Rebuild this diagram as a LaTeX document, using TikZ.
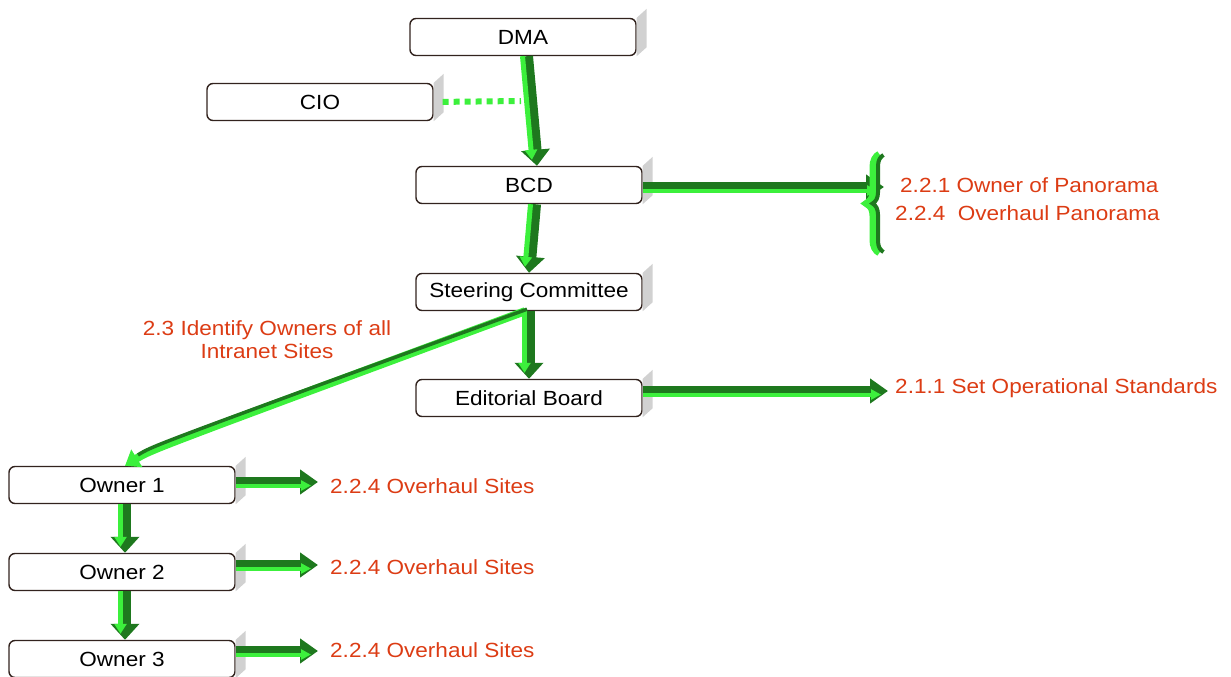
\documentclass[tikz,border=0pt]{standalone}
\usepackage{fontspec}
\setmainfont{Liberation Sans}[FakeStretch=1.1]
\usetikzlibrary{arrows.meta,decorations.pathreplacing}
\definecolor{dkgreen}{RGB}{30,120,30}
\definecolor{ltgreen}{RGB}{60,240,60}
\definecolor{taskred}{RGB}{220,60,20}
\definecolor{boxline}{RGB}{50,35,30}
\tikzset{
  box/.style={draw=boxline, line width=1.4pt, rounded corners=6pt, fill=white,
    minimum width=226pt, minimum height=37pt, inner sep=0pt,
    font=\fontsize{20.5}{23}\selectfont},
  task/.style={text=taskred, font=\fontsize{20.5}{23}\selectfont, inner sep=0pt},
  flow/.style={draw=dkgreen, line width=12pt, -{Triangle[length=16pt,width=28pt]}},
  flowhi/.style={draw=ltgreen, line width=5pt, -{Triangle[length=10pt,width=12pt]}, shorten >=6pt},
  sideflow/.style={draw=dkgreen, line width=11pt, -{Triangle[length=18pt,width=24pt]}},
  sideflowhi/.style={draw=ltgreen, line width=4pt, -{Triangle[length=10pt,width=10pt]}, shorten >=7pt},
  bevel/.style={fill=black!18, draw=none},
  dots/.style={draw=ltgreen, line width=6pt, dash pattern=on 6pt off 5pt, shorten <=9pt}
}
% grey edge behind the top right corner of a box
\newcommand{\bevelof}[1]{\fill[bevel] (#1.north east) -- ++(10,-9)
  -- ([shift={(10,-9)}]#1.south east) -- (#1.south east) -- cycle;}

\begin{document}
\begin{tikzpicture}[x=1pt,y=-1pt]
\useasboundingbox (0,0) rectangle (1231,677);

% boxes
\node[box] (dma) at (523,37) {DMA};
\node[box] (cio) at (320,102) {CIO};
\node[box] (bcd) at (529,185) {BCD};
\node[box] (st)  at (529,292) {Steering Committee};
\node[box] (ed)  at (529,398) {Editorial Board};
\node[box] (o1)  at (122,485) {Owner 1};
\node[box] (o2)  at (122,572) {Owner 2};
\node[box] (o3)  at (122,659) {Owner 3};
\foreach \b in {dma,cio,bcd,st,ed,o1,o2,o3} {\bevelof{\b}}

% tasks
\node[task, anchor=west] (t221) at (900,185) {2.2.1 Owner of Panorama};
\node[task, anchor=west] (t224) at (895,213) {2.2.4\ \ Overhaul Panorama};
\node[task, anchor=west] (t211) at (895,388) {2.1.1 Set Operational Standards};
\node[task, align=center] (t23) at (267,340) {2.3 Identify Owners of all\\Intranet Sites};
\node[task, anchor=west] (s1) at (330,486) {2.2.4 Overhaul Sites};
\node[task, anchor=west] (s2) at (330,567) {2.2.4 Overhaul Sites};
\node[task, anchor=west] (s3) at (330,650) {2.2.4 Overhaul Sites};

% CIO link
\coordinate (cioend) at (521,101);
\draw[dots] (cio.east) -- (cioend);

% vertical flows
\draw[flow] ([xshift=4pt]dma.south) -- ([xshift=8pt]bcd.north);
\draw[flowhi] ([xshift=-0.5pt]dma.south) -- ([xshift=3.5pt]bcd.north);
\draw[flow] ([xshift=6pt]bcd.south) -- (st.north);
\draw[flowhi] ([xshift=1.5pt]bcd.south) -- ([xshift=-4.5pt]st.north);
\draw[flow] (st.south) -- (ed.north);
\draw[flowhi] ([xshift=-4.5pt]st.south) -- ([xshift=-4.5pt]ed.north);
\draw[flow] ([xshift=3pt]o1.south) -- ([xshift=3pt]o2.north);
\draw[flowhi] ([xshift=-1.5pt]o1.south) -- ([xshift=-1.5pt]o2.north);
\draw[flow] ([xshift=3pt]o2.south) -- ([xshift=3pt]o3.north);
\draw[flowhi] ([xshift=-1.5pt]o2.south) -- ([xshift=-1.5pt]o3.north);

% Steering Committee to Owner 1
\draw[draw=ltgreen, line width=8pt, -{Triangle[length=14pt,width=20pt]}]
  ([xshift=-4pt]st.south) .. controls (150,450) .. ([xshift=3pt]o1.north);
\draw[draw=dkgreen, line width=3.5pt]
  ([shift={(-2,-2)}]st.south) .. controls (152,446) .. (138,455);

% side flows
\coordinate (bend) at (884,187);
\coordinate (eend) at (888,391);
\coordinate (e1) at (318,482);
\coordinate (e2) at (318,565);
\coordinate (e3) at (318,651);
\draw[sideflow] (bcd.east |- bend) -- (bend);
\draw[sideflowhi] ([yshift=-3.5pt]bcd.east |- bend) -- ([yshift=-3.5pt]bend);
\draw[sideflow] (ed.east |- eend) -- (eend);
\draw[sideflowhi] ([yshift=-3.5pt]ed.east |- eend) -- ([yshift=-3.5pt]eend);
\draw[sideflow] (o1.east |- e1) -- (e1);
\draw[sideflowhi] ([yshift=-3.5pt]o1.east |- e1) -- ([yshift=-3.5pt]e1);
\draw[sideflow] (o2.east |- e2) -- (e2);
\draw[sideflowhi] ([yshift=-3.5pt]o2.east |- e2) -- ([yshift=-3.5pt]e2);
\draw[sideflow] (o3.east |- e3) -- (e3);
\draw[sideflowhi] ([yshift=-3.5pt]o3.east |- e3) -- ([yshift=-3.5pt]e3);

% brace
\coordinate (brtop) at (882,155);
\coordinate (brbot) at (882,252);
\draw[ltgreen, line width=9pt, decorate, decoration={brace, amplitude=12pt}]
  ([xshift=-2pt]brbot) -- ([xshift=-2pt]brtop);
\draw[dkgreen, line width=4pt, decorate, decoration={brace, amplitude=11pt}]
  ([xshift=1.5pt]brbot) -- ([xshift=1.5pt]brtop);
\end{tikzpicture}
\end{document}
